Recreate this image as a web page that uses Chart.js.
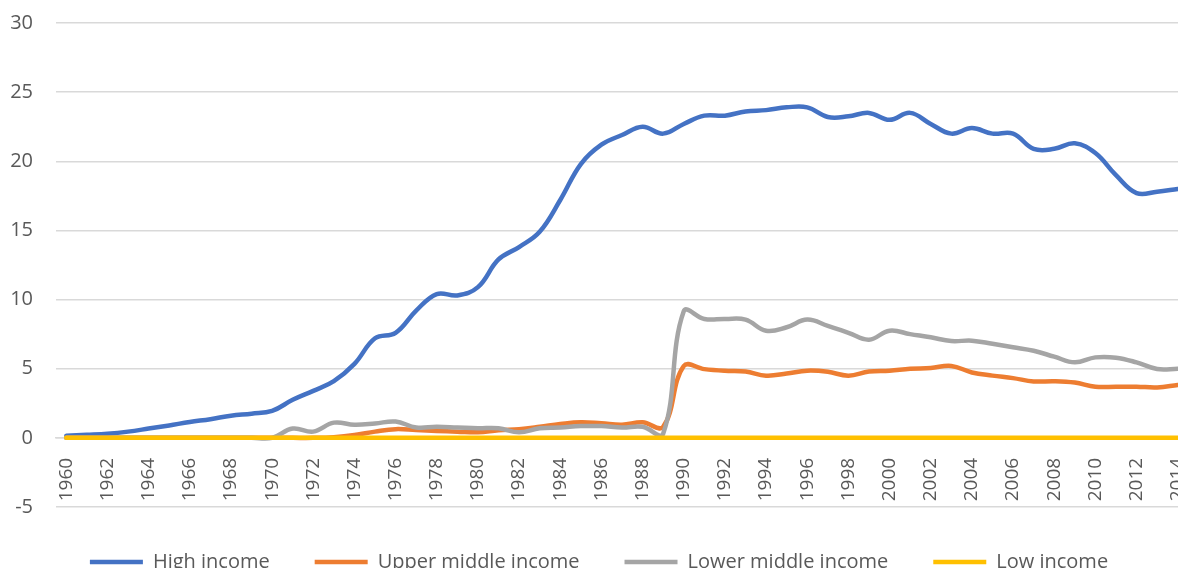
<!DOCTYPE html>
<html>
<head>
<meta charset="utf-8">
<title>Income groups</title>
<script src="https://cdn.jsdelivr.net/npm/chart.js@4.4.1/dist/chart.umd.min.js"></script>
<style>
  html, body { margin: 0; padding: 0; background: #fff; overflow: hidden; }
  #wrap { position: relative; width: 1188px; height: 582px; }
</style>
</head>
<body>
<div id="wrap"><canvas id="chart"></canvas></div>
<script>
// Years on the category axis
var years = [];
for (var y = 1960; y <= 2014; y++) { years.push(String(y)); }

// Series values
var highIncome = [
  0.15, 0.22, 0.3, 0.45, 0.67, 0.9, 1.15, 1.35, 1.6, 1.75,
  1.95, 2.75, 3.4, 4.1, 5.35, 7.2, 7.6, 9.2, 10.4, 10.3,
  10.9, 12.9, 13.8, 14.9, 17.2, 19.8, 21.2, 21.9, 22.5, 22.0,
  22.7, 23.3, 23.3, 23.6, 23.7, 23.9, 23.9, 23.2, 23.25, 23.5,
  23.0, 23.5, 22.7, 22.0, 22.4, 22.0, 22.0, 20.9, 20.9, 21.3,
  20.6, 19.0, 17.7, 17.8, 18.0
];
var upperMiddle = [
  0, 0, 0, 0, 0, 0, 0, 0, 0, 0,
  0, 0, 0, 0.05, 0.2, 0.45, 0.63, 0.56, 0.5, 0.45,
  0.4, 0.55, 0.63, 0.8, 1.0, 1.13, 1.05, 0.95, 1.12, 0.8,
  5.2, 4.97, 4.85, 4.8, 4.5, 4.65, 4.86, 4.78, 4.5, 4.8,
  4.86, 5.0, 5.05, 5.2, 4.73, 4.5, 4.32, 4.08, 4.1, 4.0,
  3.7, 3.7, 3.7, 3.65, 3.82
];
var lowerMiddle = [
  0, 0, 0, 0, 0, 0, 0, 0, 0, 0,
  0, 0.67, 0.45, 1.1, 0.95, 1.04, 1.18, 0.75, 0.8, 0.75,
  0.7, 0.7, 0.4, 0.7, 0.75, 0.85, 0.85, 0.75, 0.8, 0.3,
  9.15, 8.6, 8.6, 8.55, 7.75, 8.0, 8.55, 8.1, 7.6, 7.1,
  7.75, 7.5, 7.27, 7.0, 7.03, 6.8, 6.55, 6.3, 5.87, 5.46,
  5.82, 5.8, 5.46, 4.98, 5.0
];
var lowIncome = [
  0, 0, 0, 0, 0, 0, 0, 0, 0, 0,
  0, 0, 0, 0, 0, 0, 0, 0, 0, 0,
  0, 0, 0, 0, 0, 0, 0, 0, 0, 0,
  0, 0, 0, 0, 0, 0, 0, 0, 0, 0,
  0, 0, 0, 0, 0, 0, 0, 0, 0, 0,
  0, 0, 0, 0, 0
];

var seriesNames = ['High income', 'Upper middle income', 'Lower middle income', 'Low income'];
var seriesColors = ['#4472C4', '#ED7D31', '#A5A5A5', '#FFC000'];
var seriesData = [highIncome, upperMiddle, lowerMiddle, lowIncome];

var TEXT = '#595959';
var GRID = '#D9D9D9';
var FONT = "'Open Sans', sans-serif";

var datasets = seriesData.map(function (d, i) {
  return {
    label: seriesNames[i],
    data: d,
    borderColor: seriesColors[i],
    backgroundColor: seriesColors[i],
    borderWidth: 4.5,
    borderCapStyle: 'round',
    borderJoinStyle: 'round',
    pointRadius: 0,
    pointHoverRadius: 0,
    tension: 0.4,
    fill: false,
    // later series sit on top, like the original
    order: seriesData.length - i
  };
});

// Stop the axes from pushing the plot area in for label overhang.
function noOverhang(scale) {
  scale.paddingLeft = 0;
  scale.paddingRight = 0;
  scale.paddingTop = 0;
  scale.paddingBottom = 0;
}

new Chart(document.getElementById('chart'), {
  type: 'line',
  data: { labels: years, datasets: datasets },
  options: {
    responsive: true,
    maintainAspectRatio: false,
    animation: false,
    layout: { padding: { left: 10, top: 23, right: 0, bottom: 0 } },
    plugins: {
      tooltip: { enabled: false },
      legend: {
        position: 'bottom',
        labels: {
          usePointStyle: true,
          pointStyle: 'line',
          pointStyleWidth: 53,
          boxHeight: 20,
          padding: 45,
          color: TEXT,
          font: { family: FONT, size: 20 },
          sort: function (a, b) { return a.datasetIndex - b.datasetIndex; }
        }
      }
    },
    scales: {
      x: {
        position: { y: 0 },
        offset: true,
        afterFit: noOverhang,
        grid: { display: false, drawTicks: true, tickLength: 8 },
        border: { display: true, color: GRID, width: 1.5 },
        ticks: {
          autoSkip: false,
          minRotation: 90,
          maxRotation: 90,
          padding: 12,
          color: TEXT,
          font: { family: FONT, size: 19 },
          callback: function (v, i) { return i % 2 === 0 ? years[i] : null; }
        }
      },
      y: {
        min: -5,
        max: 30,
        afterFit: function (scale) {
          noOverhang(scale);
          scale.width = 46;
        },
        grid: { color: GRID, lineWidth: 1.5, drawTicks: false },
        border: { display: false },
        ticks: {
          stepSize: 5,
          padding: 23,
          color: TEXT,
          font: { family: FONT, size: 20 }
        }
      }
    }
  }
});
</script>
</body>
</html>
